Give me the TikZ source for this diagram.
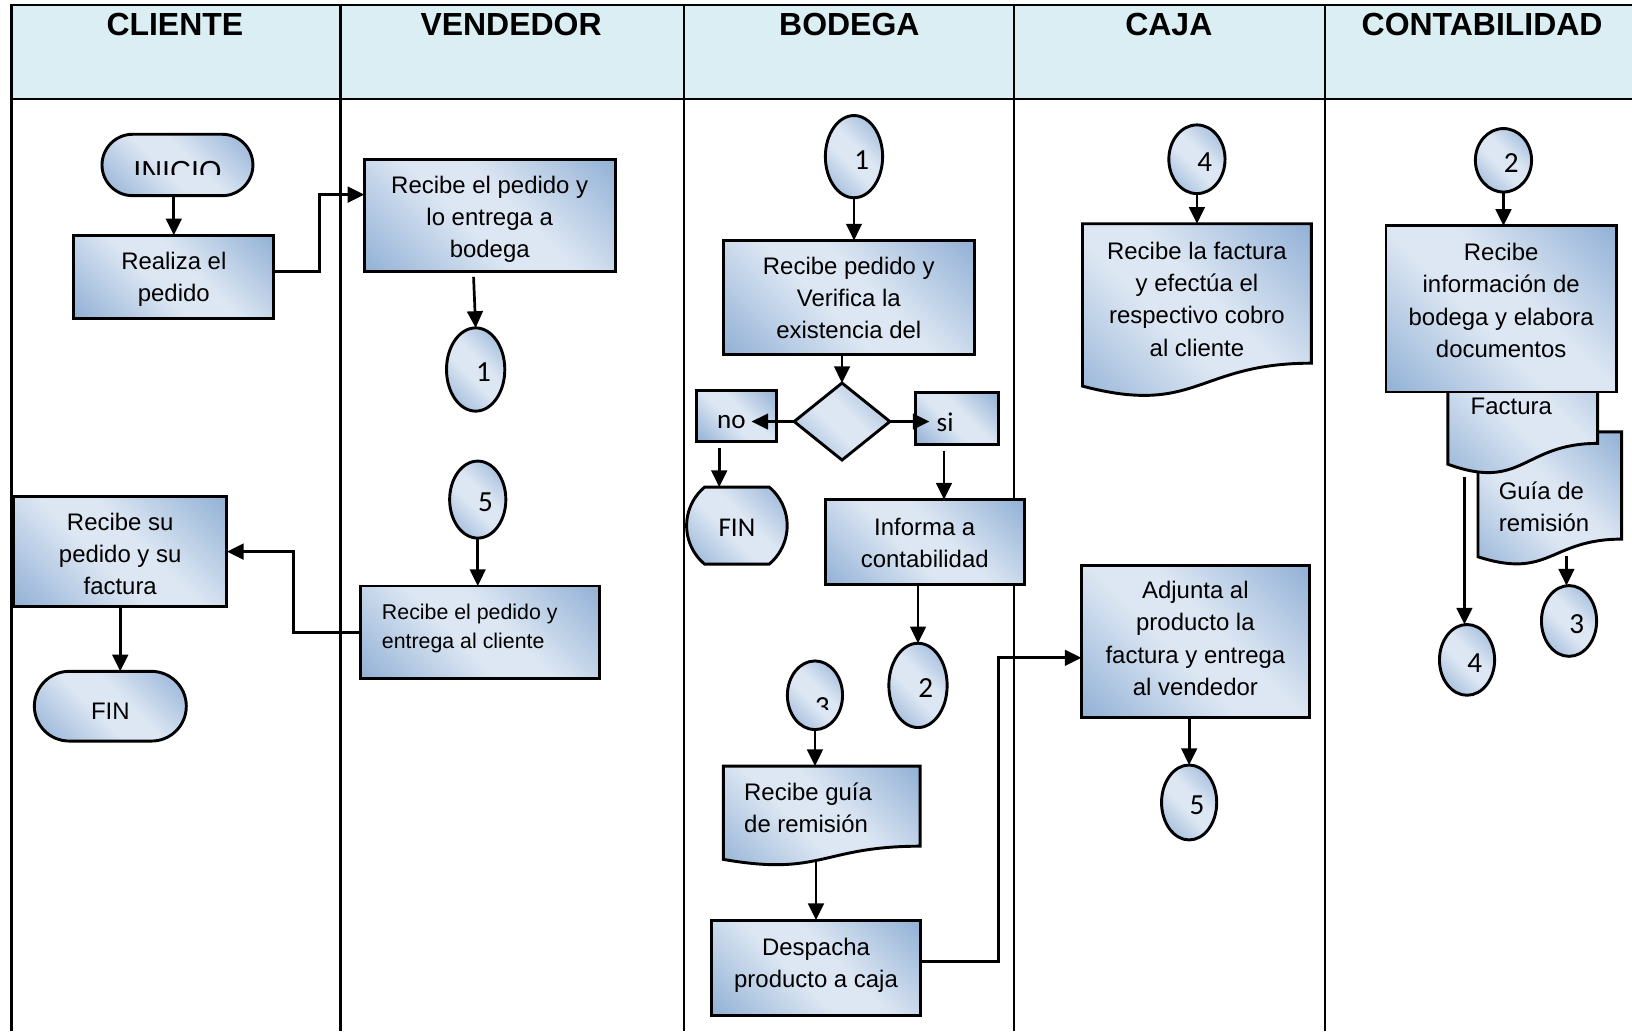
\documentclass[tikz,border=0pt]{standalone}
\usepackage{fontspec}
\setmainfont{Liberation Sans}
\newfontfamily\calibf{Carlito}
\usetikzlibrary{shapes.geometric,shapes.misc,arrows.meta,calc}

\definecolor{gdark}{RGB}{149,179,215}
\definecolor{glight}{RGB}{221,231,243}
\definecolor{hdrfill}{RGB}{218,238,243}

\pgfdeclarehorizontalshading{boxgrad}{100bp}{color(0bp)=(gdark); color(16bp)=(gdark); color(44bp)=(glight); color(56bp)=(glight); color(84bp)=(gdark); color(100bp)=(gdark)}

% flowchart "document" symbol: flat top, wavy bottom edge
\makeatletter
\pgfdeclareshape{docwave}{%
  \inheritsavedanchors[from=rectangle]%
  \inheritanchorborder[from=rectangle]%
  \inheritanchor[from=rectangle]{center}%
  \inheritanchor[from=rectangle]{north}%
  \inheritanchor[from=rectangle]{south}%
  \inheritanchor[from=rectangle]{east}%
  \inheritanchor[from=rectangle]{west}%
  \inheritanchor[from=rectangle]{north east}%
  \inheritanchor[from=rectangle]{north west}%
  \inheritanchor[from=rectangle]{south east}%
  \inheritanchor[from=rectangle]{south west}%
  \inheritanchor[from=rectangle]{text}%
  \inheritanchor[from=rectangle]{base}%
  \inheritanchor[from=rectangle]{mid}%
  \backgroundpath{%
    \southwest \pgf@xa=\pgf@x \pgf@ya=\pgf@y
    \northeast \pgf@xb=\pgf@x \pgf@yb=\pgf@y
    \pgf@yc=\pgf@yb \advance\pgf@yc by -\pgf@ya
    \pgf@xc=.5\pgf@xa \advance\pgf@xc by .5\pgf@xb
    \pgfutil@tempdima=.198\pgf@yc \advance\pgfutil@tempdima by \pgf@ya
    \pgfutil@tempdimb=-.1075\pgf@yc \advance\pgfutil@tempdimb by \pgf@ya
    \pgf@yc=.066\pgf@yc \advance\pgf@yc by \pgf@ya
    \edef\docwave@r{\the\pgfutil@tempdima}%
    \edef\docwave@c{\the\pgfutil@tempdimb}%
    \edef\docwave@l{\the\pgf@yc}%
    \edef\docwave@xl{\the\pgf@xa}%
    \edef\docwave@xr{\the\pgf@xb}%
    \edef\docwave@xm{\the\pgf@xc}%
    \edef\docwave@t{\the\pgf@yb}%
    \pgfpathmoveto{\pgfqpoint{\docwave@xl}{\docwave@t}}%
    \pgfpathlineto{\pgfqpoint{\docwave@xr}{\docwave@t}}%
    \pgfpathlineto{\pgfqpoint{\docwave@xr}{\docwave@r}}%
    \pgfpathcurveto{\pgfqpoint{\docwave@xm}{\docwave@r}}%
                   {\pgfqpoint{\docwave@xm}{\docwave@c}}%
                   {\pgfqpoint{\docwave@xl}{\docwave@l}}%
    \pgfpathclose
  }%
}
\makeatother

\newcommand\bodyfont{\fontsize{11.5}{15.5}\selectfont}
\newcommand\smallbody{\fontsize{10.25}{14}\selectfont}
\newcommand\calfont{\calibf\fontsize{13}{15.5}\selectfont}
\newcommand\numfont{\calibf\fontsize{14}{16}\selectfont}
\newcommand\hdrfont{\bfseries\fontsize{15.35}{18}\selectfont}

% centred lines, moved up by #1
\newcommand\boxtxt[2]{\raisebox{\dimexpr#1-1.2pt\relax}[\height][\depth]{\begin{tabular}{@{}c@{}}#2\end{tabular}}}
% left-aligned lines in a block of width #1, moved up by #2
\newcommand\lefttxt[3]{\raisebox{\dimexpr#2-1.2pt\relax}[\height][\depth]{\makebox[#1][l]{\begin{tabular}{@{}l@{}}#3\end{tabular}}}}
% connector label, set a little right of and below the centre
\newcommand\numtxt[1]{\raisebox{-1.5pt}[\height][\depth]{\hspace*{7.5pt}#1}}

\tikzset{
  lane/.style={line width=1.2pt, draw=black},
  hdr/.style={font=\hdrfont, inner sep=0pt},
  base/.style={draw=black, line width=1.4pt, shade, shading=boxgrad, shading angle=45,
               inner sep=0pt, outer sep=0pt},
  proc/.style 2 args={base, rectangle, minimum width=#1*0.5pt, minimum height=#2*0.5pt, font=\bodyfont},
  doc/.style 2 args={base, shape=docwave, minimum width=#1*0.5pt, minimum height=#2*0.5pt, font=\bodyfont},
  term/.style 2 args={base, rounded rectangle, minimum width=#1*0.5pt, minimum height=#2*0.5pt, font=\bodyfont},
  num/.style 2 args={base, ellipse, minimum width=#1*0.5pt, minimum height=#2*0.5pt, font=\numfont},
  arr/.style={line width=1.3pt, -{Triangle[length=8pt,width=7.5pt]}},
}

\begin{document}
\begin{tikzpicture}[x=0.5pt, y=-0.5pt]
\useasboundingbox (0,0) rectangle (1568,991);

% ---------- swimlane table ----------
\fill[hdrfill] (11,5) rectangle (1568,95);
\draw[lane] (11,991) -- (11,5) -- (1568,5);
\draw[lane] (11,95) -- (1568,95);
\foreach \xx in {327,657,974,1273} \draw[lane] (\xx,5) -- (\xx,991);

\node[hdr] (hcli) at (168,24) {CLIENTE};
\node[hdr] (hven) at (491,24) {VENDEDOR};
\node[hdr] (hbod) at (816,24) {BODEGA};
\node[hdr] (hcaj) at (1123,24) {CAJA};
\node[hdr] (hcon) at (1424,24) {CONTABILIDAD};

% ---------- CLIENTE ----------
\node[term={145}{59}] (inicio) at (170.5,158.5) {};
\begin{scope}
  \clip (90,120) rectangle (250,167.5);
  \node[font=\fontsize{13.9}{16}\selectfont, inner sep=0pt] (iniciotxt) at (170.5,165) {INICIO};
\end{scope}
\node[proc={192}{80}] (realiza) at (167,266) {\boxtxt{0pt}{Realiza el\\pedido}};
\node[proc={205}{106}] (recibesu) at (115.5,530) {\boxtxt{-1pt}{Recibe su\\pedido y su\\factura}};
\node[term={146}{67}] (fin1) at (106,678.5) {\boxtxt{-2pt}{FIN}};

% ---------- VENDEDOR ----------
\node[proc={241}{108}] (recibe1) at (470.5,207) {\boxtxt{-0.5pt}{Recibe el pedido y\\lo entrega a\\bodega}};
\node[num={56}{80}] (c1a) at (457,355) {\numtxt{1}};
\node[num={54}{74}] (c5a) at (459,480) {\numtxt{5}};
\node[proc={230}{89}, font=\smallbody] (recibe2) at (461,607.5) {\lefttxt{94pt}{3.25pt}{Recibe el pedido y\\entrega al cliente}};

% ---------- BODEGA ----------
\node[num={55}{79}] (c1b) at (820.5,150.5) {\numtxt{1}};
\node[proc={241}{110}] (verifica) at (815.5,286) {\boxtxt{0pt}{Recibe pedido y\\Verifica la\\existencia del}};
\node[base, diamond, minimum width=46pt, minimum height=37pt] (dec) at (809,405) {};
\node[proc={77}{49}, font=\calfont] (nobox) at (707.5,399.5) {\lefttxt{18.5pt}{-2pt}{no}};
\node[proc={79}{50}, font=\calfont] (sibox) at (919.5,402) {\lefttxt{19.5pt}{-1.8pt}{si}};
\node[term={94}{74}, rounded rectangle arc length=100, font=\calfont] (fin2) at (708,505) {\boxtxt{-0.8pt}{FIN}};
\node[proc={191}{82}] (informa) at (888.5,521) {\boxtxt{0pt}{Informa a\\contabilidad}};
\node[num={56}{81}] (c2b) at (882,658.5) {\numtxt{2}};
\node[num={53}{66}] (c3b) at (783,668) {};
\begin{scope}
  \clip (740,600) rectangle (830,682);
  \node[font=\numfont, inner sep=0pt] (c3btxt) at (790,679.5) {3};
\end{scope}
\node[doc={189}{96}] (remision) at (789.5,784) {\lefttxt{74.5pt}{4pt}{Recibe guía\\de remisión}};
\node[proc={200}{92}] (despacha) at (784,930) {\boxtxt{2.75pt}{Despacha\\producto a caja}};

% ---------- CAJA ----------
\node[num={54}{66}] (c4a) at (1150,153) {\numtxt{4}};
\node[doc={220}{167}] (cobro) at (1150,298.5) {\boxtxt{5.75pt}{Recibe la factura\\y efectúa el\\respectivo cobro\\al cliente}};
\node[proc={219}{146}] (adjunta) at (1148.5,616) {\boxtxt{1.5pt}{Adjunta al\\producto la\\factura y entrega\\al vendedor}};
\node[num={53}{72}] (c5b) at (1142.5,771) {\numtxt{5}};

% ---------- CONTABILIDAD ----------
\node[num={54}{61}] (c2c) at (1444.5,154) {\numtxt{2}};
\node[doc={138}{128.4}] (guia) at (1489,479.2) {\lefttxt{49pt}{-3.9pt}{Guía de\\remisión}};
\node[doc={144}{151.5}] (factura) at (1463,380.25) {\lefttxt{50pt}{-4.9pt}{Factura}};
\node[proc={221.3}{159.6}] (elabora) at (1442.3,296.8) {\boxtxt{4.25pt}{Recibe\\información de\\bodega y elabora\\documentos}};
\node[num={53}{68}] (c3c) at (1507.5,596.6) {\numtxt{3}};
\node[num={53}{68}] (c4c) at (1409.5,634) {\numtxt{4}};

% ---------- connectors ----------
\draw[arr] (realiza.north |- inicio.south) -- (realiza.north);
\draw[arr] ($(realiza.east)+(0,-5)$) -- ++(44,0) |- ($(recibe1.west)+(0,-20)$);
\draw[arr] ($(recibe1.south)+(-15.5,5)$) -- (c1a.north);
\draw[arr] (c5a.south) -- (c5a.south |- recibe2.north);
\draw[arr] (recibe2.west) -- ++(-64,0) |- (recibesu.east);
\draw[arr] (recibesu.south) -- (recibesu.south |- fin1.north);

\draw[arr] (c1b.south) -- (c1b.south |- verifica.north);
\draw[arr] (dec.north |- verifica.south) -- (dec.north);
\draw[arr] (dec.west) -- ($(dec.west -| nobox.east)+(-24,0)$);
\draw[arr] (dec.east) -- ($(dec.east -| sibox.west)+(13,0)$);
\coordinate (noout) at ($(nobox.south)+(-16.5,6)$);
\draw[arr] (noout) -- (noout |- fin2.north);
\coordinate (siout) at ($(sibox.south)+(-12.5,6)$);
\draw[arr] (siout) -- (siout |- informa.north);
\draw[arr] (c2b.north |- informa.south) -- (c2b.north);
\draw[arr] (c3b.south) -- (c3b.south |- remision.north);
\draw[arr] ($(despacha.north |- remision.south)+(0,-6)$) -- (despacha.north);
\draw[arr] ($(despacha.east)+(0,-6)$) -- ++(75,0) |- ($(adjunta.west)+(0,16)$);

\draw[arr] (c4a.south) -- (c4a.south |- cobro.north);
\draw[arr] (c5b.north |- adjunta.south) -- (c5b.north);

\draw[arr] (c2c.south) -- (c2c.south |- elabora.north);
\coordinate (facout) at ($(factura.south west)+(16,2)$);
\draw[arr] (facout) -- (facout |- c4c.north);
\coordinate (guiaout) at ($(guia.south)+(16,-9)$);
\draw[arr] (guiaout) -- (guiaout |- c3c.north);
\end{tikzpicture}
\end{document}
